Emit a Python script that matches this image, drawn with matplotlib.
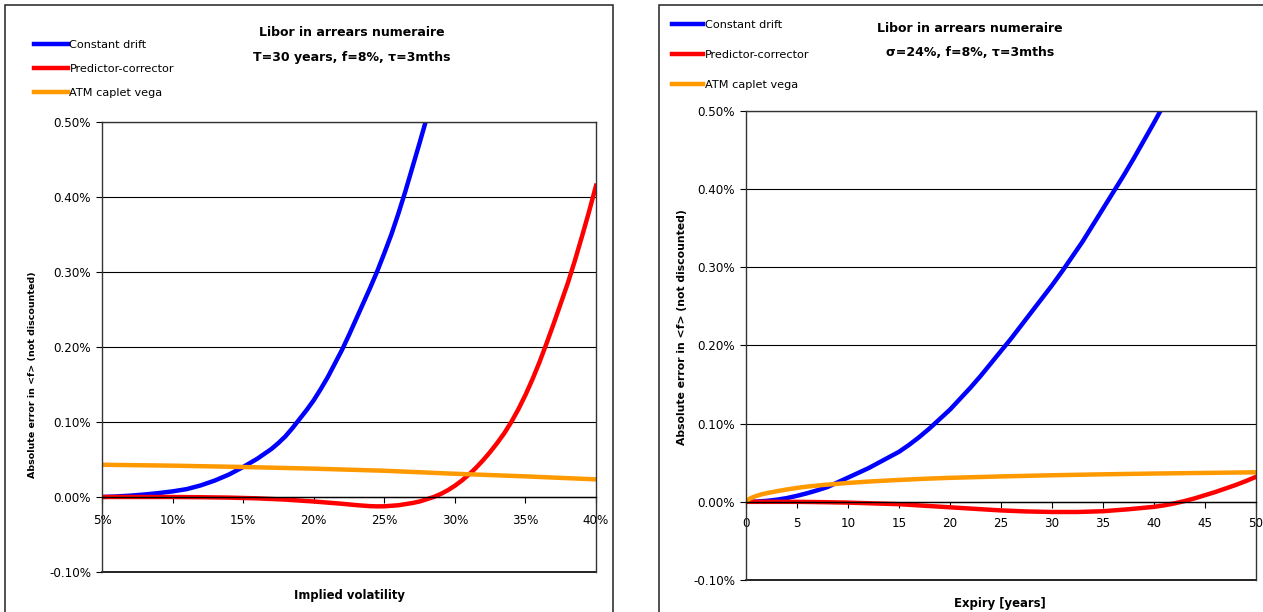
import numpy as np
import matplotlib.pyplot as plt
from matplotlib.patches import Rectangle
from matplotlib.ticker import FuncFormatter, MultipleLocator

# implied volatility sweep (T=30y) - values in %
vol_blue = [5, 6, 7, 8, 9, 10, 11, 12, 13, 14, 15, 16, 17, 17.5, 18, 18.5, 19,
            19.5, 20, 20.5, 21, 21.5, 22, 22.5, 23, 23.5, 24, 24.5, 25, 25.5,
            26, 26.5, 27, 27.5, 28]
err_blue_vol = [0.0, 0.0007, 0.0018, 0.0033, 0.0052, 0.0075, 0.0105, 0.0155,
                0.022, 0.030, 0.040, 0.051, 0.064, 0.072, 0.081, 0.092, 0.104,
                0.116, 0.129, 0.144, 0.160, 0.178, 0.196, 0.216, 0.237, 0.258,
                0.279, 0.301, 0.325, 0.350, 0.378, 0.408, 0.440, 0.472, 0.505]
vol_red = [5, 10, 12, 14, 16, 18, 20, 21, 22, 23, 24, 24.5, 25, 26, 27, 27.5,
           28, 28.5, 29, 29.5, 30, 30.5, 31, 31.5, 32, 32.5, 33, 33.5, 34,
           34.5, 35, 35.5, 36, 36.5, 37, 37.5, 38, 38.5, 39, 39.5, 40]
err_red_vol = [0.0, 0.0, -0.0003, -0.0008, -0.0018, -0.0035, -0.006, -0.0075,
               -0.009, -0.0108, -0.0122, -0.0125, -0.0124, -0.011, -0.008,
               -0.006, -0.003, 0.0, 0.004, 0.009, 0.015, 0.022, 0.030, 0.039,
               0.049, 0.060, 0.072, 0.085, 0.100, 0.117, 0.136, 0.157, 0.180,
               0.205, 0.231, 0.258, 0.285, 0.315, 0.347, 0.380, 0.415]
vol_orange = [5, 10, 15, 20, 25, 30, 35, 40]
vega_vol = [0.043, 0.0418, 0.040, 0.0378, 0.035, 0.031, 0.0275, 0.0235]

# expiry sweep (sigma=24%) - years
exp_blue = list(range(0, 42))
err_blue_exp = [0.0, 0.0003, 0.0012, 0.0027, 0.0048, 0.0077, 0.011, 0.0148,
                0.019, 0.025, 0.031, 0.037, 0.043, 0.050, 0.057, 0.064, 0.073,
                0.083, 0.094, 0.106, 0.118, 0.132, 0.146, 0.161, 0.177, 0.193,
                0.209, 0.226, 0.243, 0.260, 0.277, 0.295, 0.314, 0.333, 0.354,
                0.375, 0.396, 0.417, 0.439, 0.462, 0.485, 0.509]
exp_red = [0, 2.5, 5, 7.5, 10, 12.5, 15, 17.5, 20, 22.5, 25, 27.5, 30, 32.5,
           35, 37.5, 40, 41, 42, 43, 44, 45, 46, 47, 48, 49, 50]
err_red_exp = [0.0, 0.0, 0.0, -0.0004, -0.001, -0.002, -0.003, -0.005, -0.007,
               -0.009, -0.011, -0.0123, -0.013, -0.013, -0.012, -0.0095,
               -0.0064, -0.0045, -0.002, 0.001, 0.0045, 0.0085, 0.0125, 0.017,
               0.0215, 0.0265, 0.032]
exp_orange = [0, 0.25, 0.5, 1, 1.5, 2, 3, 4, 5, 6, 7.5, 10, 12.5, 15, 17.5,
              20, 25, 30, 35, 40, 45, 50]
vega_exp = [0.001, 0.003, 0.005, 0.0075, 0.0095, 0.011, 0.0135, 0.0158,
            0.0178, 0.0195, 0.0215, 0.0242, 0.0263, 0.028, 0.0295, 0.0307,
            0.0325, 0.034, 0.0352, 0.0362, 0.037, 0.0378]

labels = ['Constant drift', 'Predictor-corrector', 'ATM caplet vega']
colors = ['#0000FF', '#FF0000', '#FF9900']

W, H = 1263, 612
fig = plt.figure(figsize=(W / 100, H / 100), dpi=100)
plt.rcParams['font.family'] = ['DejaVu Sans']


def px_box(x0, y0, x1, y1):
    # pixel rectangle (top-left origin) -> figure fraction [l, b, w, h]
    return [x0 / W, 1 - y1 / H, (x1 - x0) / W, (y1 - y0) / H]


def setup_axes(ax, xmin, xmax, xstep, xfmt, xpad):
    ax.set_xlim(xmin, xmax)
    ax.set_ylim(-0.1, 0.5)
    ax.yaxis.set_major_locator(MultipleLocator(0.1))
    ax.xaxis.set_major_locator(MultipleLocator(xstep))
    ax.yaxis.set_major_formatter(FuncFormatter(lambda v, p: '%.2f%%' % v))
    ax.xaxis.set_major_formatter(FuncFormatter(xfmt))
    ax.grid(axis='y', color='black', lw=0.8)
    ax.set_axisbelow(True)
    for s in ['left', 'right', 'top']:
        ax.spines[s].set_color('#333333')
        ax.spines[s].set_linewidth(1.0)
    ax.spines['bottom'].set_position(('data', 0))
    ax.spines['bottom'].set_linewidth(1.0)
    ax.plot([0, 1], [0, 0], transform=ax.transAxes, color='black', lw=1.2,
            clip_on=False)
    ax.tick_params(axis='both', direction='out', length=4, width=0.8,
                   labelsize=8.6)
    ax.tick_params(axis='x', pad=xpad)
    ax.tick_params(axis='y', pad=4)


def frame(x0, x1):
    r = Rectangle((x0 / W, -0.1), (x1 - x0) / W, 1.1 - 4.5 / H,
                  transform=fig.transFigure, fill=False, ec='#222222', lw=1.1)
    fig.patches.append(r)


def bold(x, y, s, size, rot=0):
    fig.text(x / W, 1 - y / H, s, ha='center', va='center', fontsize=size,
             fontweight='bold', rotation=rot)


frame(4.5, 612.5)
frame(658.5, 1275)

# left panel: implied volatility
ax1 = fig.add_axes(px_box(102, 122, 596, 572))
setup_axes(ax1, 5, 40, 5, lambda v, p: '%d%%' % v, 8)
ax1.plot(vol_blue, err_blue_vol, color=colors[0], lw=3.2)
ax1.plot(vol_red, err_red_vol, color=colors[1], lw=3.2)
ax1.plot(vol_orange, vega_vol, color=colors[2], lw=3.2)
bold(349, 596, 'Implied volatility', 8.4)
bold(33, 375, 'Absolute error in <f> (not discounted)', 6.8, 90)
bold(352, 33, 'Libor in arrears numeraire', 9)
bold(352, 58, 'T=30 years, f=8%, τ=3mths', 9)
fig.legend(handles=ax1.get_lines()[1:], labels=labels, loc='upper left',
           bbox_to_anchor=(34 / W, 1 - 40 / H), frameon=False, fontsize=8.1,
           handlelength=3.0, handletextpad=0.15, labelspacing=1.24,
           borderpad=0, borderaxespad=0)

# right panel: expiry
ax2 = fig.add_axes(px_box(746, 111, 1256, 580))
setup_axes(ax2, 0, 50, 5, lambda v, p: '%d' % v, 7)
ax2.plot(exp_blue, err_blue_exp, color=colors[0], lw=3.2)
ax2.plot(exp_red, err_red_exp, color=colors[1], lw=3.2)
ax2.plot(exp_orange, vega_exp, color=colors[2], lw=3.2)
bold(1000, 603, 'Expiry [years]', 8.4)
bold(682, 327, 'Absolute error in <f> (not discounted)', 7.8, 90)
bold(970, 29, 'Libor in arrears numeraire', 9)
bold(970, 53, 'σ=24%, f=8%, τ=3mths', 9)
fig.legend(handles=ax2.get_lines()[1:], labels=labels, loc='upper left',
           bbox_to_anchor=(672 / W, 1 - 20 / H), frameon=False, fontsize=8.1,
           handlelength=2.75, handletextpad=0.15, labelspacing=1.77,
           borderpad=0, borderaxespad=0)

fig.savefig('out.png', dpi=100)
